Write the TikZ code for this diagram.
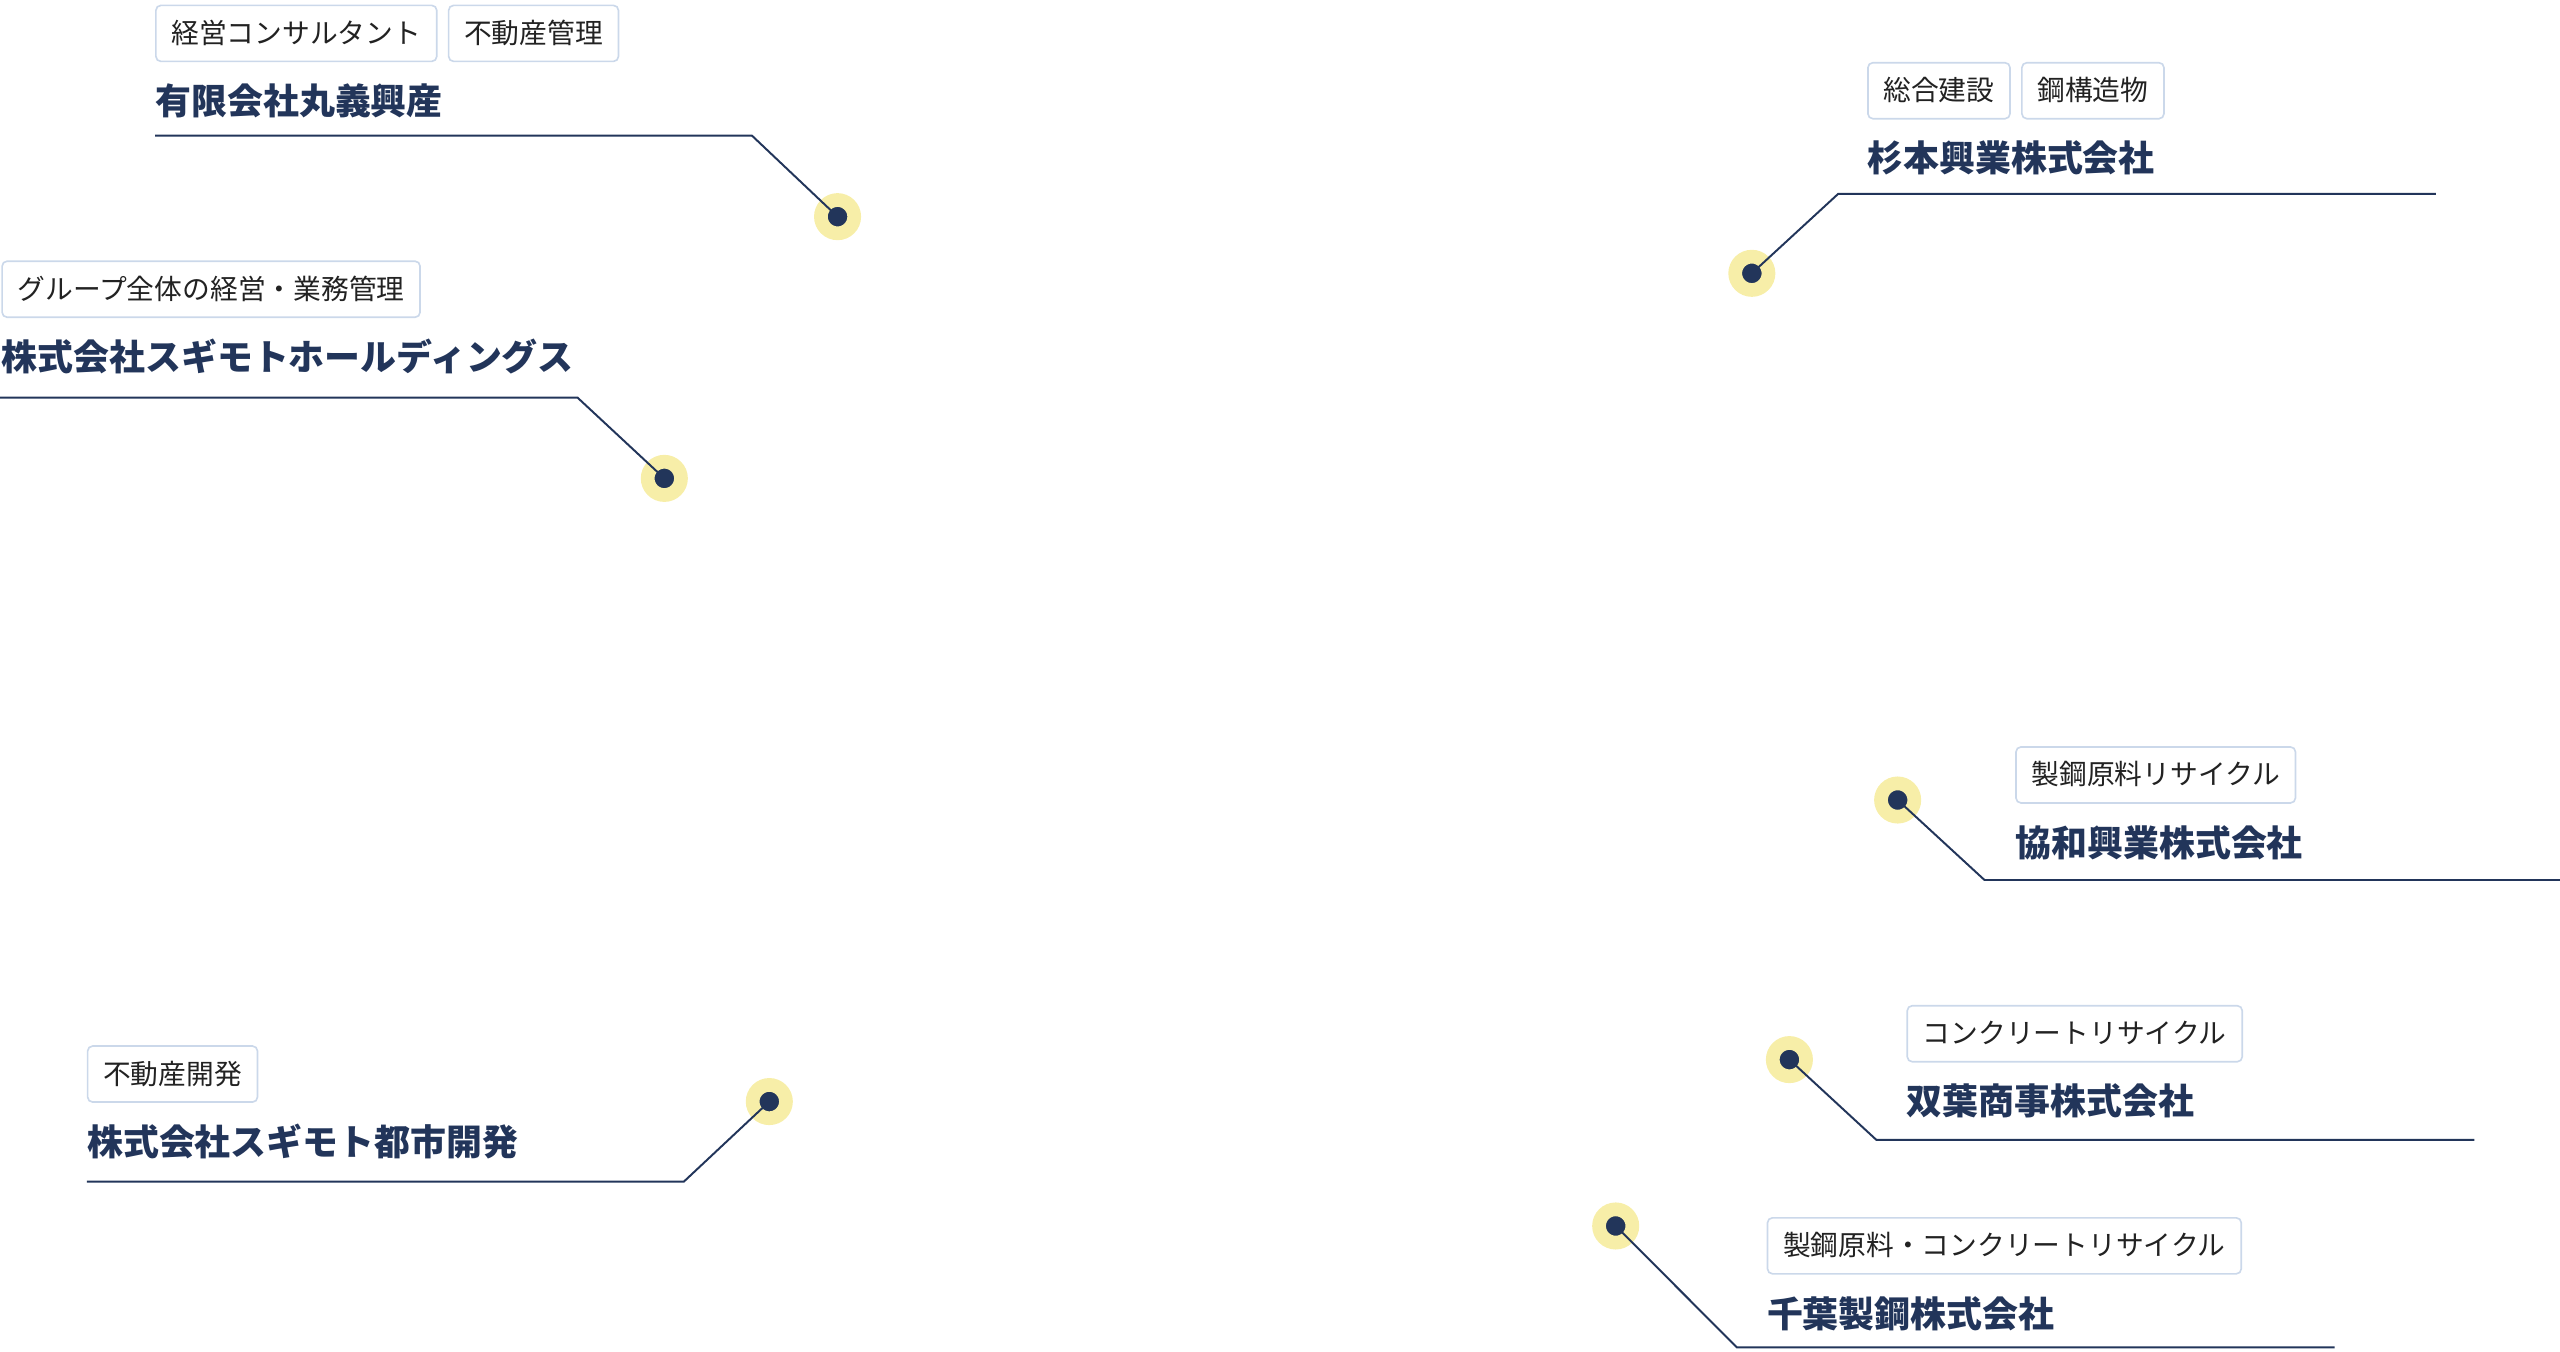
\documentclass[tikz,border=0pt]{standalone}
\usepackage{fontspec}
\setmainfont{Noto Sans CJK JP}
\usepackage{tikz}
\usetikzlibrary{positioning}
\definecolor{navy}{HTML}{22355A}
\definecolor{halo}{HTML}{F7EEA8}
\definecolor{tagline}{HTML}{CBD8EA}
\definecolor{tagtext}{HTML}{222222}
\tikzset{
  firm/.style={anchor=west, inner sep=0, text=navy, font=\fontsize{22}{26}\selectfont\bfseries,
    text height=19.4pt, text depth=2.6pt},
  tag/.style={draw=tagline, line width=1pt, rounded corners=3pt, fill=white, text=tagtext,
    font=\fontsize{17}{20}\selectfont, inner xsep=9.5pt, inner ysep=0pt, minimum height=34.3pt,
    text height=14.6pt, text depth=2.4pt},
  spot/.style={circle, fill=navy, draw=halo, line width=8.4pt, minimum size=20.4pt, inner sep=0},
  leader/.style={navy, line width=1.2pt},
}

\begin{document}
\begin{tikzpicture}[x=1pt,y=-1pt]
\useasboundingbox (0,0) rectangle (1568,828);
\foreach \n/\x/\y in {smaru/513/132.7, shd/406.9/293, ssugi/1073/167.4, skyowa/1162.3/490,
  stoshi/471.2/674.7, sfutaba/1096/649, schiba/989.6/750.9} {
 \node[spot] (\n) at (\x,\y) {};
}

% left side
\node[firm] (maru) at (95,61.8) {有限会社丸義興産};
\node[tag, anchor=north west] (maru1) at ([yshift=59pt]maru.west) {経営コンサルタント};
\node[tag, right=6.3pt of maru1] (maru2) {不動産管理};
\coordinate (maruL) at (95,83.1);
\coordinate (maruK) at (460.6,83.1);
\draw[leader] (maruL) -- (maruK) -- (smaru.center);

\node[firm] (hd) at (0.8,218.5) {株式会社スギモトホールディングス};
\node[tag, anchor=north west] (hd1) at ([yshift=59pt]hd.west) {グループ全体の経営・業務管理};
\coordinate (hdL) at (0,243.6);
\coordinate (hdK) at (353.8,243.6);
\draw[leader] (hdL) -- (hdK) -- (shd.center);

\node[firm] (toshi) at (53.2,699.2) {株式会社スギモト都市開発};
\node[tag, anchor=north west] (toshi1) at ([yshift=59pt]toshi.west) {不動産開発};
\coordinate (toshiL) at (53.2,723.7);
\coordinate (toshiK) at (418.9,723.7);
\draw[leader] (toshiL) -- (toshiK) -- (stoshi.center);

% right side
\node[firm] (sugi) at (1143.6,96.9) {杉本興業株式会社};
\node[tag, anchor=north west] (sugi1) at ([yshift=59pt]sugi.west) {総合建設};
\node[tag, right=6.3pt of sugi1] (sugi2) {鋼構造物};
\coordinate (sugiK) at (1125.8,118.8);
\coordinate (sugiR) at (1491.9,118.8);
\draw[leader] (ssugi.center) -- (sugiK) -- (sugiR);

\node[firm] (kyowa) at (1234.3,516) {協和興業株式会社};
\node[tag, anchor=north west] (kyowa1) at ([yshift=59pt]kyowa.west) {製鋼原料リサイクル};
\coordinate (kyowaK) at (1215.5,539);
\coordinate (kyowaR) at (1568,539);
\draw[leader] (skyowa.center) -- (kyowaK) -- (kyowaR);

\node[firm] (futaba) at (1167.7,674.5) {双葉商事株式会社};
\node[tag, anchor=north west] (futaba1) at ([yshift=59pt]futaba.west) {コンクリートリサイクル};
\coordinate (futabaK) at (1149.3,698.2);
\coordinate (futabaR) at (1515.5,698.2);
\draw[leader] (sfutaba.center) -- (futabaK) -- (futabaR);

\node[firm] (chiba) at (1082.1,804.4) {千葉製鋼株式会社};
\node[tag, anchor=north west] (chiba1) at ([yshift=59pt]chiba.west) {製鋼原料・コンクリートリサイクル};
\coordinate (chibaK) at (1063.8,825.2);
\coordinate (chibaR) at (1429.9,825.2);
\draw[leader] (schiba.center) -- (chibaK) -- (chibaR);
\end{tikzpicture}
\end{document}
